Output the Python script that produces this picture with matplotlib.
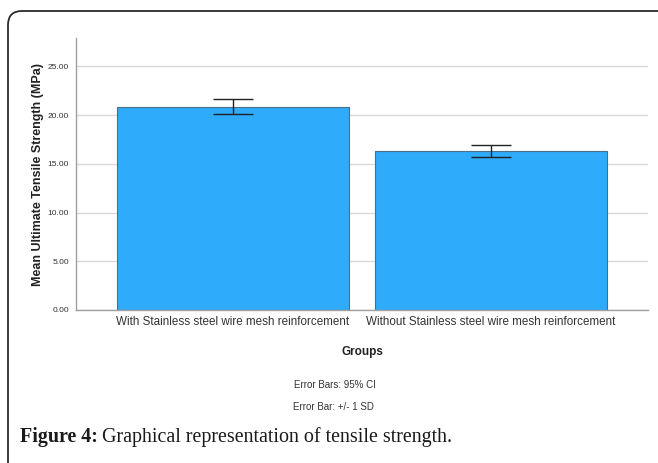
import numpy as np
import matplotlib.pyplot as plt
from matplotlib.patches import FancyBboxPatch
from matplotlib.transforms import IdentityTransform

plt.rcParams["font.family"] = ["Liberation Sans", "DejaVu Sans"]

# ---------- data ----------
groups = ["With Stainless steel wire mesh reinforcement",
          "Without Stainless steel wire mesh reinforcement"]
means = [20.85, 16.30]
err_low = [20.15, 15.67]
err_high = [21.60, 16.97]
yticks = [0, 5, 10, 15, 20, 25]

W, H = 658, 463
fig = plt.figure(figsize=(W / 100, H / 100), dpi=100)

# outer rounded frame (only top and left edges visible)
frame = FancyBboxPatch((8, -40), 720, H - 11 + 40,
                       boxstyle="round,pad=0,rounding_size=14",
                       transform=IdentityTransform(), fill=False,
                       edgecolor="#2b2b2b", linewidth=1.3)
fig.patches.append(frame)

ax = fig.add_axes([76 / W, 1 - 310 / H, (648 - 76) / W, (310 - 38) / H])
x = np.arange(len(groups))
ax.bar(x, means, width=0.9, color="#2fabfb", edgecolor="#4a6f8a",
       linewidth=0.8, zorder=2)
m = np.array(means)
yerr = np.vstack([m - np.array(err_low), np.array(err_high) - m])
ax.errorbar(x, means, yerr=yerr, fmt="none", ecolor="#222222",
            elinewidth=1.0, capsize=14.5, capthick=1.0, zorder=3)

ax.set_xlim(-0.609, 1.609)
ax.set_ylim(0, 27.9)
ax.set_yticks(yticks)
ax.set_yticklabels([f"{v:.2f}" for v in yticks], fontsize=6, color="#333333")
ax.set_xticks(x)
ax.set_xticklabels(groups, fontsize=8.4, color="#333333")
ax.tick_params(axis="both", length=0, pad=5)
ax.tick_params(axis="x", pad=4)
ax.yaxis.grid(True, color="#d9d9d9", linewidth=1.0, zorder=0)
ax.set_axisbelow(True)
for s in ["top", "right"]:
    ax.spines[s].set_visible(False)
for s in ["left", "bottom"]:
    ax.spines[s].set_color("#a0a0a0")
    ax.spines[s].set_linewidth(1.0)

ax.set_ylabel("Mean Ultimate Tensile Strength (MPa)", fontsize=9,
              fontweight="bold", color="#222222", labelpad=3)
ax.set_xlabel("Groups", fontsize=8.5, fontweight="bold", color="#222222",
              labelpad=13)

fig.text(335 / W, 1 - 385 / H, "Error Bars: 95% CI", fontsize=7,
         color="#333333", ha="center", va="center")
fig.text(333 / W, 1 - 407 / H, "Error Bar: +/- 1 SD", fontsize=7,
         color="#333333", ha="center", va="center")

cap = fig.text(20 / W, 1 - 437 / H, "Figure 4:", fontsize=14.4,
               family="Liberation Serif", fontweight="bold",
               color="#1a1a1a", ha="left", va="center")
fig.canvas.draw()
bb = cap.get_window_extent()
fig.text((bb.x1 + 4) / W, 1 - 437 / H, "Graphical representation of tensile strength.",
         fontsize=14.4, family="Liberation Serif", color="#1a1a1a",
         ha="left", va="center")

fig.savefig("out.png", dpi=100)
